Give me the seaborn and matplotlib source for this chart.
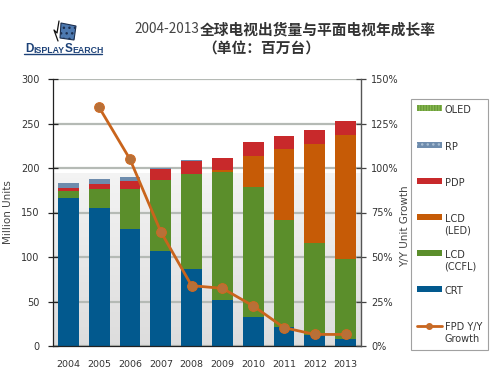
import numpy as np
import pandas as pd
import matplotlib
matplotlib.use("Agg")
import matplotlib.pyplot as plt
import seaborn as sns
from matplotlib.patches import Patch, Rectangle, Polygon
from matplotlib.lines import Line2D
from matplotlib.legend_handler import HandlerPatch, HandlerLine2D

# ---------------- data ----------------
years = ['2004', '2005', '2006', '2007', '2008', '2009', '2010', '2011', '2012', '2013']
crt = [166.6, 155.4, 131.0, 107.0, 86.5, 51.7, 32.6, 21.7, 12.4, 8.3]
lcd_ccfl = [7.6, 20.6, 45.4, 80.0, 106.8, 144.2, 146.0, 119.5, 103.3, 89.1]
lcd_led = [0.0, 0.0, 0.0, 0.0, 0.0, 2.0, 35.0, 80.1, 111.3, 139.6]
pdp = [3.7, 6.0, 9.4, 12.0, 14.6, 13.3, 15.6, 14.7, 15.3, 15.4]
rp = [5.6, 5.3, 4.1, 1.5, 1.0, 0.5, 0.0, 0.0, 0.0, 0.0]
oled = [0.0, 0.0, 0.0, 0.0, 0.0, 0.0, 0.0, 0.0, 0.5, 0.8]
growth_years = ['2005', '2006', '2007', '2008', '2009', '2010', '2011', '2012', '2013']
fpd_growth = [134.0, 104.9, 64.2, 33.9, 32.4, 22.5, 10.3, 6.5, 6.5]

series = ['CRT', 'LCD\n(CCFL)', 'LCD\n(LED)', 'PDP', 'RP', 'OLED']
values = [crt, lcd_ccfl, lcd_led, pdp, rp, oled]
colors = ['#02598e', '#5b8e2b', '#c65b06', '#c8292b', '#6e8cad', '#86b84e']

df = pd.DataFrame({'year': years})
cum = np.zeros(len(years))
for name, v in zip(series, values):
    cum = cum + np.array(v)
    df[name] = cum

pos = {y: i for i, y in enumerate(years)}
gdf = pd.DataFrame({'x': [pos[y] for y in growth_years], 'g': fpd_growth})

# ---------------- figure ----------------
sns.set_style("white")
plt.rcParams['font.family'] = ['DejaVu Sans']
fig = plt.figure(figsize=(5, 3.75), dpi=100)
W, H = 500, 375
ax = fig.add_axes([53 / W, 1 - 346 / H, (361 - 53) / W, (346 - 79) / H])

# gradient background panel
grad = np.linspace(0, 1, 100)[:, None]
top = np.array([0.955, 0.955, 0.955])
bot = np.array([0.865, 0.865, 0.865])
img = top[None, None, :] * (1 - grad[:, :, None]) + bot[None, None, :] * grad[:, :, None]
ax.imshow(img, extent=(-0.5, len(years) - 0.5, 0, 194), aspect='auto', zorder=0, interpolation='bilinear')

# stacked bars: draw cumulative totals from top layer down
for name, c in reversed(list(zip(series, colors))):
    sns.barplot(data=df, x='year', y=name, color=c, width=0.68, saturation=1,
                errorbar=None, ax=ax, zorder=1, linewidth=0)

ax.set_xlim(-0.5, len(years) - 0.5)
ax.set_ylim(0, 300)
ax.set_yticks(np.arange(0, 301, 50))
ax.set_axisbelow(True)
ax.yaxis.grid(True, color='#b5bab5', lw=1.6)
ax.xaxis.grid(False)
ax.set_xticks(range(len(years)))
ax.set_xticklabels(years)
ax.set_xticks(np.arange(-0.5, len(years), 1.0), minor=True)
ax.tick_params(axis='x', which='major', length=0, labelsize=6.8, labelcolor='#333333', pad=10)
ax.tick_params(axis='x', which='minor', length=6, direction='inout', color='#222222', width=0.9)
ax.tick_params(axis='y', length=7, direction='inout', color='#222222', width=0.9,
               labelsize=7.0, labelcolor='#333333', pad=6)
ax.set_xlabel('')
ax.set_ylabel('Million Units', fontsize=7.5, color='#444444')
ax.yaxis.set_label_coords((13.5 - 53) / 308, 0.5)
for s in ['top', 'right']:
    ax.spines[s].set_visible(False)
ax.spines['left'].set_color('#222222')
ax.spines['left'].set_linewidth(0.9)
ax.spines['bottom'].set_color('#222222')
ax.spines['bottom'].set_linewidth(0.9)

# growth line on secondary axis
ax2 = ax.twinx()
line_col = '#c9641c'
sns.lineplot(data=gdf, x='x', y='g', ax=ax2, color=line_col, lw=2.0, marker='o',
             markersize=7, markerfacecolor='#b87038', markeredgecolor='#cf6a22', zorder=5)
ax2.set_ylim(0, 150)
ax2.set_yticks(np.arange(0, 151, 25))
ax2.set_yticklabels([f'{t}%' for t in range(0, 151, 25)])
ax2.set_xlim(-0.5, len(years) - 0.5)
ax2.tick_params(axis='y', length=7, direction='inout', color='#444444', width=0.9,
                labelsize=7.0, labelcolor='#333333', pad=4)
ax2.set_ylabel('Y/Y Unit Growth', fontsize=7.5, color='#444444', rotation=90)
ax2.yaxis.set_label_coords((400 - 53) / 308, (346 - 226) / 267)
for s in ['top', 'left', 'bottom']:
    ax2.spines[s].set_visible(False)
ax2.spines['right'].set_color('#555555')
ax2.spines['right'].set_linewidth(1.0)
ax2.set_xlabel('')

# ---------------- legend ----------------
FS = 7.0
SHIFT = FS * 0.85


def make_patch_handler(shift):
    def fn(legend, orig_handle, xdescent, ydescent, width, height, fontsize):
        return Rectangle((-xdescent, -ydescent + shift), width, height)
    return HandlerPatch(patch_func=fn)


class ShiftLine(HandlerLine2D):
    def __init__(self, shift, **kw):
        super().__init__(**kw)
        self.shift = shift

    def create_artists(self, legend, orig_handle, xdescent, ydescent, width, height, fontsize, trans):
        arts = super().create_artists(legend, orig_handle, xdescent, ydescent, width, height, fontsize, trans)
        for a in arts:
            a.set_ydata(np.asarray(a.get_ydata()) + self.shift)
        return arts


leg_items = [
    ('OLED\n ', Patch(facecolor='#86b84e', edgecolor='#6a9a3a', hatch='||||||', lw=0)),
    ('RP\n ', Patch(facecolor='#6e8cad', edgecolor='#a8bdd2', hatch='...', lw=0)),
    ('PDP\n ', Patch(facecolor='#c8292b', lw=0)),
    ('LCD\n(LED)', Patch(facecolor='#c65b06', lw=0)),
    ('LCD\n(CCFL)', Patch(facecolor='#5b8e2b', lw=0)),
    ('CRT\n ', Patch(facecolor='#02598e', lw=0)),
    ('FPD Y/Y\nGrowth', Line2D([], [], color=line_col, lw=2.0, marker='o', markersize=4,
                               markerfacecolor='#b87038', markeredgecolor='#cf6a22')),
]
hmap = {}
for lab, h in leg_items:
    if isinstance(h, Line2D):
        hmap[h] = ShiftLine(SHIFT, marker_pad=0.3, numpoints=1)
    else:
        hmap[h] = make_patch_handler(SHIFT)

hlabels = [l for l, _ in leg_items]
hhandles = [h for _, h in leg_items]
leg = fig.legend(hhandles, hlabels, handler_map=hmap, loc='upper left',
                 bbox_to_anchor=(411 / W, 1 - 99 / H), bbox_transform=fig.transFigure,
                 fontsize=FS, frameon=True, fancybox=False, edgecolor='#8a8a8a',
                 handlelength=2.5, handleheight=0.55, handletextpad=0.3,
                 labelspacing=1.5, borderpad=0.65, borderaxespad=0)
leg.get_frame().set_linewidth(0.8)
for t in leg.get_texts():
    t.set_color('#333333')

# ---------------- titles ----------------
cjk = ['Noto Sans CJK SC', 'DejaVu Sans']
fig.text(199 / W, 1 - 29 / H, '2004-2013', ha='right', va='center', fontsize=9.8,
         family=cjk, color='#444444')
fig.text(200 / W, 1 - 29 / H, '全球电视出货量与平面电视年成长率', ha='left', va='center',
         fontsize=10.6, family=cjk, weight='bold', color='#333333')
fig.text(261 / W, 1 - 49 / H, '（单位：百万台）', ha='center', va='center',
         fontsize=10.6, family=cjk, weight='bold', color='#333333')

# ---------------- logo ----------------
logo_col = '#1d4278'
t0 = fig.text(25 / W, 1 - 52 / H, 'D', fontsize=8.5, family='Liberation Sans', weight='bold',
              color=logo_col, va='baseline', ha='left')
t1 = ax.annotate('ISPLAY', xy=(1, 0), xycoords=t0, fontsize=6.3, family='Liberation Sans',
                 weight='bold', color=logo_col, va='bottom', ha='left', annotation_clip=False)
t2 = ax.annotate('S', xy=(1, 0), xycoords=t1, fontsize=8.5, family='Liberation Sans',
                 weight='bold', color=logo_col, va='bottom', ha='left', annotation_clip=False)
t3 = ax.annotate('EARCH', xy=(1, 0), xycoords=t2, fontsize=6.3, family='Liberation Sans',
                 weight='bold', color=logo_col, va='bottom', ha='left', annotation_clip=False)
fig.add_artist(Line2D([24 / W, 102 / W], [1 - 54 / H, 1 - 54 / H], color=logo_col, lw=1.0))
scr = [(61, 23), (76, 26), (74, 40), (60, 38)]
fig.add_artist(Polygon([(x / W, 1 - y / H) for x, y in scr], closed=True,
                       facecolor='#4d79b0', edgecolor='#1d3050', lw=0.8, hatch='...'))
zig = [(59, 21), (57, 33), (54, 30), (58, 41)]
fig.add_artist(Line2D([x / W for x, _ in zig], [1 - y / H for _, y in zig], color='#111111', lw=0.9))

fig.savefig('out.png', dpi=100)
